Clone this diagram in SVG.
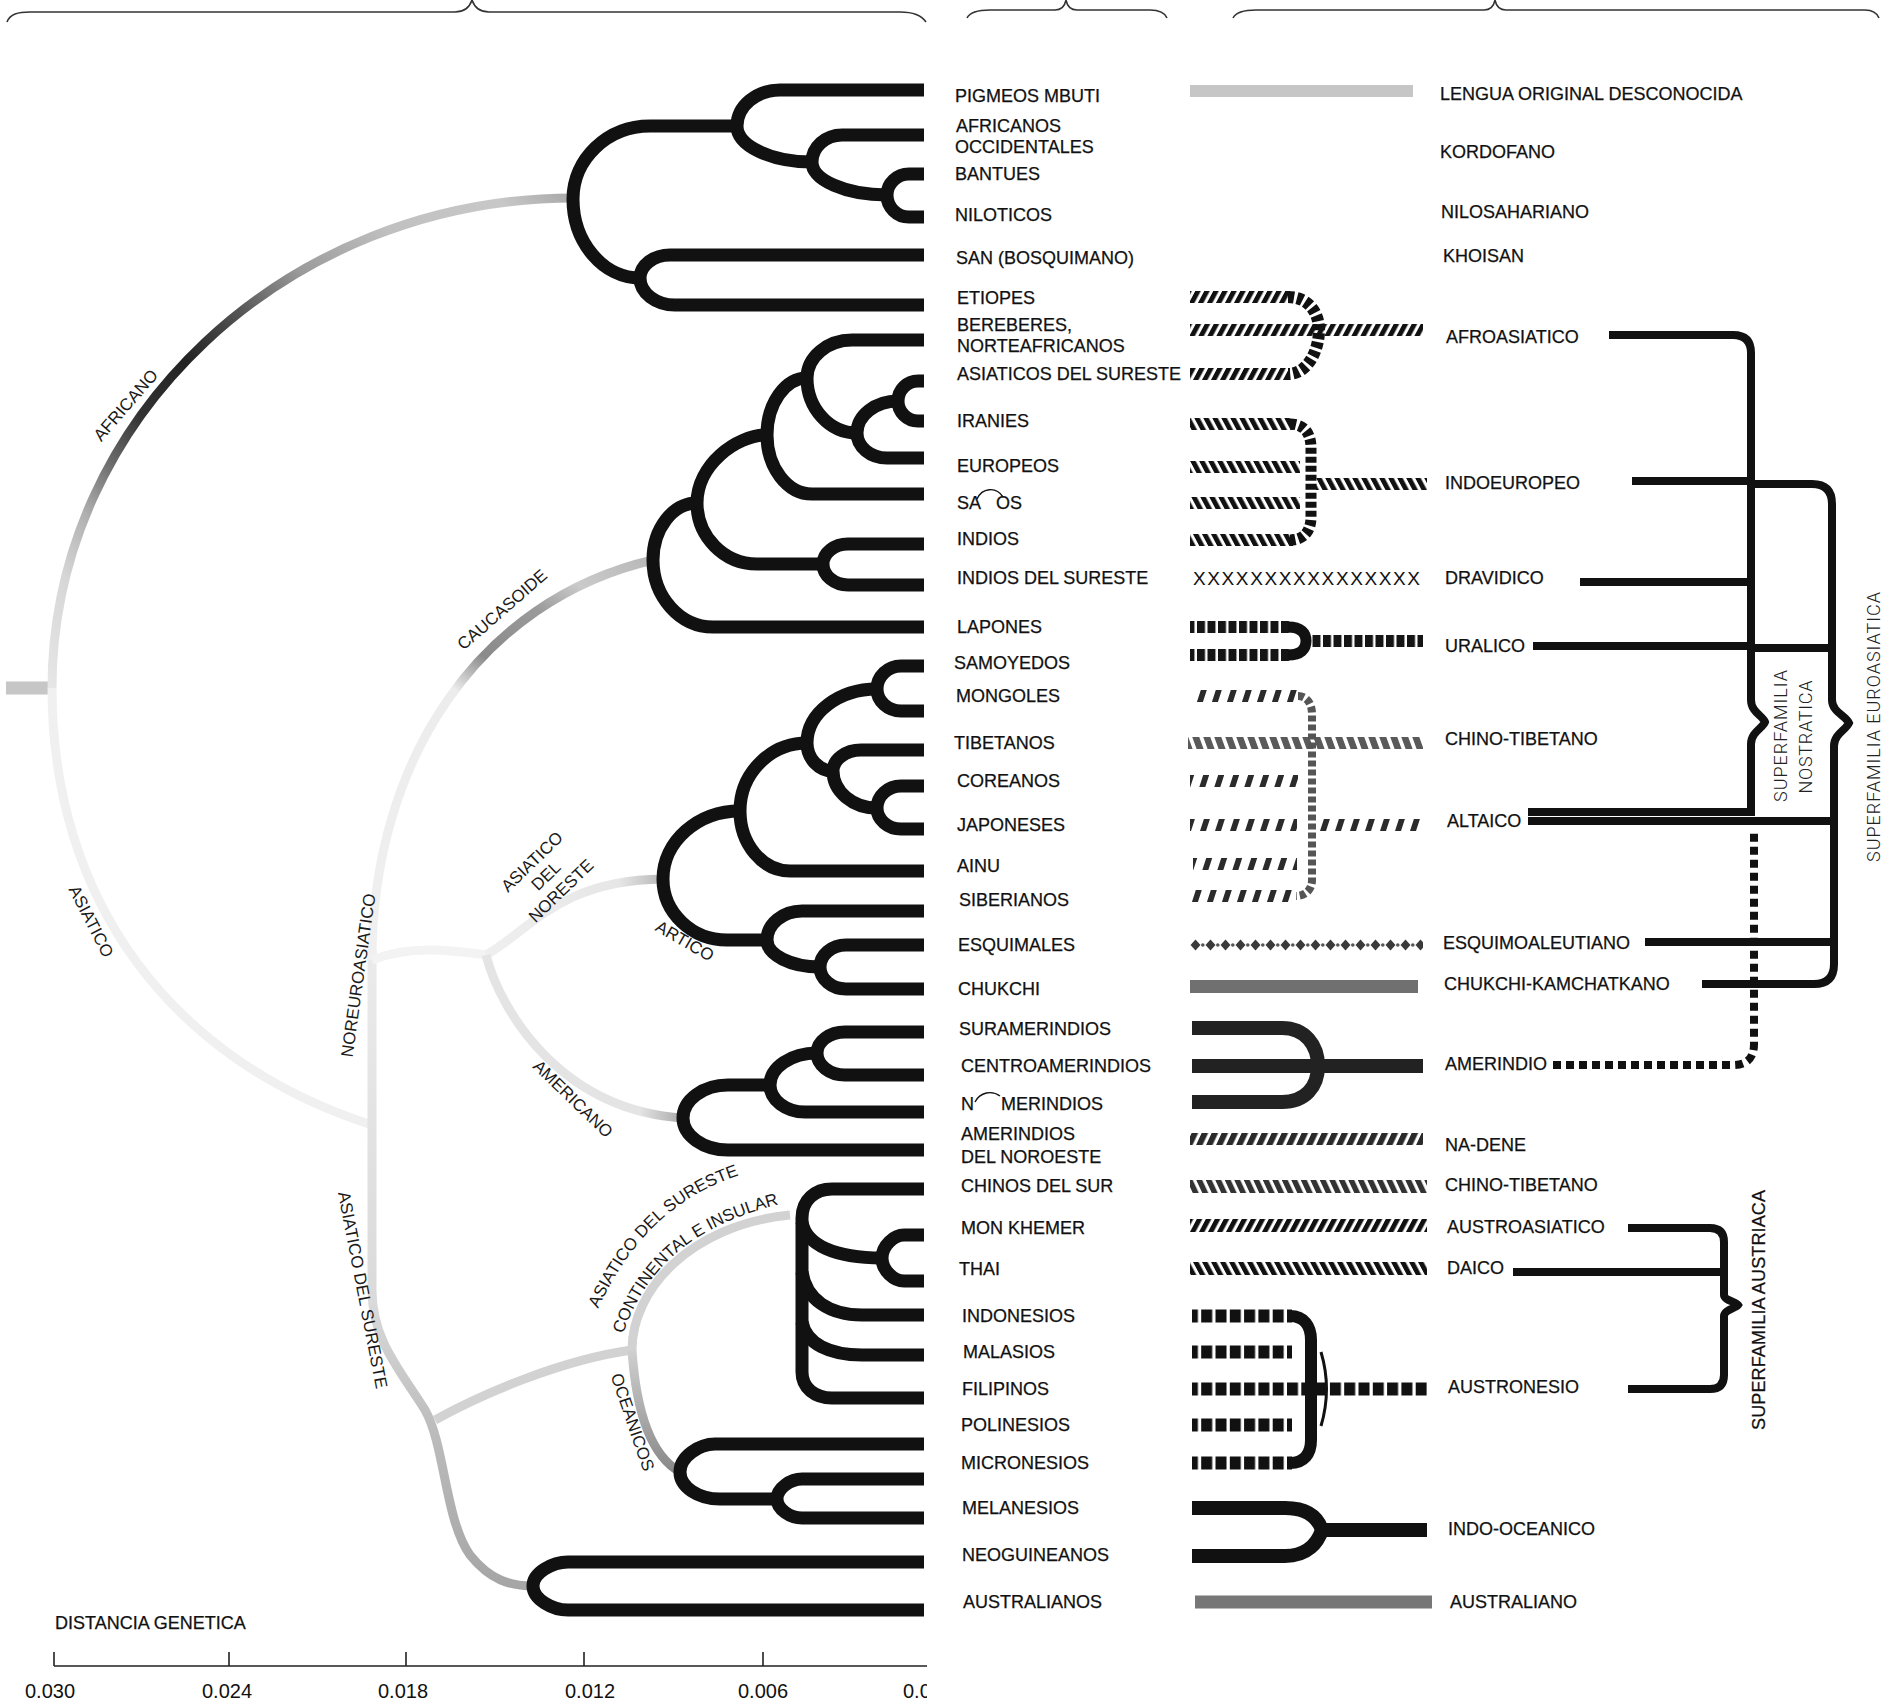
<svg xmlns="http://www.w3.org/2000/svg" width="1883" height="1705" viewBox="0 0 1883 1705">
<style>
.br{fill:none;stroke:#111;stroke-width:13}
.t{font-family:'Liberation Sans',Arial,Helvetica,sans-serif;font-size:18px;fill:#111;stroke:#111;stroke-width:0.25}
.tl{font-family:'Liberation Sans',Arial,Helvetica,sans-serif;font-size:17px;fill:#1a1a1a}
.sf{font-family:Roboto,'Liberation Sans',Arial,sans-serif;font-weight:300;font-size:18px;fill:#222}
.bk{fill:none;stroke:#111;stroke-width:8}
.brace{fill:none;stroke:#333;stroke-width:1.6}
.ax{font-family:'Liberation Sans',Arial,sans-serif;font-size:20px;fill:#111}
.gb{fill:none;stroke-width:9}
</style>
<defs>
<pattern id="pFwd" patternUnits="userSpaceOnUse" width="9" height="40" patternTransform="skewX(-28)"><rect width="5.5" height="40" fill="#111"/></pattern>
<pattern id="pBack" patternUnits="userSpaceOnUse" width="9" height="40" patternTransform="skewX(28)"><rect width="5.5" height="40" fill="#111"/></pattern>
<pattern id="pFwdD" patternUnits="userSpaceOnUse" width="10" height="40" patternTransform="skewX(-25)"><rect width="6.5" height="40" fill="#2a2a2a"/></pattern>
<pattern id="pBackG" patternUnits="userSpaceOnUse" width="9.5" height="40" patternTransform="skewX(25)"><rect width="6" height="40" fill="#333"/></pattern>
<pattern id="pBlock" patternUnits="userSpaceOnUse" width="10.5" height="40"><rect width="8" height="40" fill="#151515"/></pattern>
<pattern id="pSq" patternUnits="userSpaceOnUse" width="14.3" height="40"><rect width="11" height="40" fill="#111"/></pattern>
<pattern id="pMong" patternUnits="userSpaceOnUse" width="15" height="40" patternTransform="skewX(-18)"><rect width="6" height="40" fill="#2b2b2b"/></pattern>
<pattern id="pTib" patternUnits="userSpaceOnUse" width="11" height="40" patternTransform="skewX(20)"><rect width="7" height="40" fill="#5a5a5a"/></pattern>
<pattern id="pEsk" patternUnits="userSpaceOnUse" x="1190" y="939" width="15" height="12"><path d="M0.5 6 L5.5 0.5 L10.5 6 L5.5 11.5Z" fill="#3a3a3a"/><circle cx="12.8" cy="6" r="1.8" fill="#555"/></pattern>
<linearGradient id="gAfr" gradientUnits="userSpaceOnUse" x1="52" y1="688" x2="574" y2="198">
<stop offset="0" stop-color="#e6e6e6"/><stop offset="0.12" stop-color="#d6d6d6"/><stop offset="0.2" stop-color="#b0b0b0"/><stop offset="0.27" stop-color="#707070"/><stop offset="0.35" stop-color="#333"/><stop offset="0.45" stop-color="#222"/><stop offset="0.55" stop-color="#555"/><stop offset="0.65" stop-color="#9a9a9a"/><stop offset="0.78" stop-color="#c0c0c0"/><stop offset="0.92" stop-color="#c8c8c8"/><stop offset="1" stop-color="#a8a8a8"/>
</linearGradient>
<linearGradient id="gCau" gradientUnits="userSpaceOnUse" x1="372" y1="960" x2="653" y2="560">
<stop offset="0" stop-color="#f0f0f0"/><stop offset="0.55" stop-color="#ececec"/><stop offset="0.64" stop-color="#8a8a8a"/><stop offset="0.78" stop-color="#9a9a9a"/><stop offset="0.87" stop-color="#cacaca"/><stop offset="1" stop-color="#b8b8b8"/>
</linearGradient>
<linearGradient id="gVert" gradientUnits="userSpaceOnUse" x1="0" y1="950" x2="0" y2="1590">
<stop offset="0" stop-color="#ebebeb"/><stop offset="0.55" stop-color="#dadada"/><stop offset="0.75" stop-color="#bcbcbc"/><stop offset="1" stop-color="#a5a5a5"/>
</linearGradient>
<linearGradient id="gNE" gradientUnits="userSpaceOnUse" x1="486" y1="0" x2="663" y2="0">
<stop offset="0" stop-color="#efefef"/><stop offset="0.75" stop-color="#e6e6e6"/><stop offset="1" stop-color="#b8b8b8"/>
</linearGradient>
<linearGradient id="gAm" gradientUnits="userSpaceOnUse" x1="486" y1="0" x2="683" y2="0">
<stop offset="0" stop-color="#e4e4e4"/><stop offset="0.78" stop-color="#e4e4e4"/><stop offset="1" stop-color="#a8a8a8"/>
</linearGradient>
<linearGradient id="gOc" gradientUnits="userSpaceOnUse" x1="0" y1="1350" x2="0" y2="1472">
<stop offset="0" stop-color="#d0d0d0"/><stop offset="1" stop-color="#888"/>
</linearGradient>
<linearGradient id="gOce" gradientUnits="userSpaceOnUse" x1="672" y1="0" x2="770" y2="0">
<stop offset="0" stop-color="#6a6a6a"/><stop offset="1" stop-color="#111"/>
</linearGradient>
<clipPath id="clipAx"><rect x="0" y="0" width="927" height="1705"/></clipPath>
<path id="tp1" d="M598 1309 C631.6 1236 678.8 1193.3 746 1173"/>
<path id="tp2" d="M623 1334 C651 1254 708 1222.5 783 1203"/>
</defs>
<rect width="1883" height="1705" fill="#fff"/>

<g id="top-braces">
<path class="brace" d="M7 22 C10 14 18 12 30 12 L455 12 C465 12 470 6 472 0 C474 6 479 12 489 12 L900 12 C915 12 922 16 926 22"/>
<path class="brace" d="M967 18 C970 12 978 10 990 10 L1055 10 C1062 10 1065 5 1066 0 C1067 5 1070 10 1077 10 L1150 10 C1160 10 1165 13 1167 18"/>
<path class="brace" d="M1233 18 C1236 12 1244 10 1256 10 L1484 10 C1491 10 1494 5 1495 0 C1496 5 1499 10 1506 10 L1865 10 C1873 10 1877 13 1879 18"/>
</g>

<g id="gray-tree">
<path d="M6 688 L52 688" stroke="#c6c6c6" stroke-width="13" fill="none"/>
<path class="gb" d="M52 688 C52 418.5 286.9 198 574 198" stroke="url(#gAfr)" stroke-width="11"/>
<path class="gb" d="M52 688 C52 900 170 1060 372 1125" stroke="#f0f0f0" stroke-width="8"/>
<path class="gb" d="M372 950 L372 1290 C372 1340 400 1370 425 1410 C445 1445 445 1520 470 1555 C490 1580 510 1586 533 1586" stroke="url(#gVert)"/>
<path class="gb" d="M372 960 C372 760 480 600 653 560" stroke="url(#gCau)"/>
<path class="gb" d="M372 960 C410 945 450 950 486 955" stroke="#f3f3f3" stroke-width="8"/>
<path class="gb" d="M486 955 C530 930 560 880 663 879" stroke="url(#gNE)" stroke-width="8"/>
<path class="gb" d="M486 955 C500 1010 560 1110 683 1118" stroke="url(#gAm)" stroke-width="8"/>
<path class="gb" d="M435 1420 C480 1395 560 1360 632 1350" stroke="#d2d2d2"/>
<path class="gb" d="M632 1350 C632 1290 690 1225 790 1215" stroke="#d2d2d2"/>
<path class="gb" d="M632 1350 C636 1410 650 1455 680 1472" stroke="url(#gOc)"/>
</g>

<g id="tree-labels">
<text class="tl" text-anchor="middle" transform="translate(130,409) rotate(-49)">AFRICANO</text>
<text class="tl" text-anchor="middle" transform="translate(506,614) rotate(-41)">CAUCASOIDE</text>
<text class="tl" text-anchor="middle" transform="translate(86,924) rotate(63)">ASIATICO</text>
<text class="tl" text-anchor="middle" transform="translate(364,976) rotate(-82)">NOREUROASIATICO</text>
<text class="tl" text-anchor="middle" transform="translate(357,1291) rotate(79)">ASIATICO DEL SURESTE</text>
<text class="tl" text-anchor="middle" transform="translate(536,866) rotate(-44)">ASIATICO</text>
<text class="tl" text-anchor="middle" transform="translate(550,880) rotate(-44)">DEL</text>
<text class="tl" text-anchor="middle" transform="translate(565,895) rotate(-44)">NORESTE</text>
<text class="tl" text-anchor="middle" font-size="15.5" transform="translate(682,946) rotate(30)">ARTICO</text>
<text class="tl" text-anchor="middle" transform="translate(569,1103) rotate(44)">AMERICANO</text>
<text class="tl" text-anchor="middle" transform="translate(627,1424) rotate(71)">OCEANICOS</text>
<text class="tl" font-size="16.5"><textPath href="#tp1">ASIATICO DEL SURESTE</textPath></text>
<text class="tl" font-size="16.5"><textPath href="#tp2">CONTINENTAL E INSULAR</textPath></text>
</g>

<g id="connectors">
<path class="br" d="M924 174 L909 174 C896.9 174 887 183.5 887 195 C887 207.1 896.9 217 909 217 L924 217"/>
<path class="br" d="M924 135 L842 135 C825.5 135 812 147.2 812 162 C812 180.2 845.8 195 887 195"/>
<path class="br" d="M924 90 L780 90 C756.4 90 737 106.2 737 126 C737 145.8 770.8 162 812 162"/>
<path class="br" d="M924 255 L670 255 C653.5 255 640 265.4 640 278 C640 292.9 655.8 305 675 305 L924 305"/>
<path class="br" d="M737 126 L650 126 C607.4 126 573 158.9 573 199 C573 242.5 603.2 278 640 278"/>
<path class="br" d="M924 381 L918 381 C907 381 898 390 898 401 C898 412 907 421 918 421 L924 421"/>
<path class="br" d="M898 401 C875.5 401 857 415.4 857 433 C857 446.8 870.5 458 887 458 L924 458"/>
<path class="br" d="M924 340 L852 340 C827.3 340 807 357.1 807 378 C807 408.3 829.5 433 857 433"/>
<path class="br" d="M807 378 C785 378 767 403.6 767 435 C767 467.5 787.3 494 812 494 L924 494"/>
<path class="br" d="M924 544 L848 544 C834.3 544 823 553 823 564 C823 575.6 834.3 585 848 585 L924 585"/>
<path class="br" d="M767 435 C735.5 435 697 465.6 697 503 C697 536.6 724 564 757 564 L823 564"/>
<path class="br" d="M697 503 C672.8 503 653 528.7 653 560 C653 596.9 680 627 713 627 L924 627"/>
<path class="br" d="M924 666 L901 666 C887.8 666 877 676.4 877 689 C877 701.1 887.8 711 901 711 L924 711"/>
<path class="br" d="M924 786 L901 786 C887.8 786 877 795.9 877 808 C877 819.6 887.8 829 901 829 L924 829"/>
<path class="br" d="M924 750 L861 750 C845.6 750 833 759.5 833 771 C833 791.4 852.8 808 877 808"/>
<path class="br" d="M877 689 C838.5 689 807 713.3 807 743 C807 758.4 818.7 771 833 771"/>
<path class="br" d="M807 743 C770.2 743 740 773.6 740 811 C740 844 762.5 871 790 871 L924 871"/>
<path class="br" d="M924 945 L846 945 C831.7 945 820 954.9 820 967 C820 979.1 831.7 989 846 989 L924 989"/>
<path class="br" d="M924 911 L802 911 C782.8 911 767 924.1 767 940 C767 954.9 790.9 967 820 967"/>
<path class="br" d="M740 811 C697.7 811 663 841.6 663 879 C663 912.6 691.8 940 727 940 L767 940"/>
<path class="br" d="M924 1032 L845 1032 C829.6 1032 817 1041.4 817 1053 C817 1065.1 829.6 1075 845 1075 L924 1075"/>
<path class="br" d="M817 1053 C791.2 1053 770 1067.4 770 1085 C770 1099.9 785.8 1112 805 1112 L924 1112"/>
<path class="br" d="M770 1085 L728 1085 C703.3 1085 683 1099.9 683 1118 C683 1135.6 703.3 1150 728 1150 L924 1150"/>
<path class="br" d="M924 1235 L904 1235 C894.1 1235 882 1245.4 882 1258 C882 1270.7 894.1 1281 904 1281 L924 1281"/>
<path class="br" d="M924 1189 L832 1189 C815 1189 802 1200 802 1218 L802 1372 C802 1388 815 1398 832 1398 L924 1398"/>
<path class="br" d="M802 1222 C806 1245 835 1258 882 1258"/>
<path class="br" d="M802 1272 C806 1300 830 1315 862 1315 L924 1315"/>
<path class="br" d="M802 1322 C806 1344 830 1355 862 1355 L924 1355"/>
<path class="br" d="M924 1479 L802 1479 C790.8 1479 777 1488 777 1499 C777 1509.5 790.8 1518 802 1518 L924 1518"/>
<path class="br" stroke="url(#gOce)" d="M924 1444 L715 1444 C699.3 1444 680 1456.6 680 1472 C680 1486.9 698 1499 720 1499 L777 1499"/>
<path class="br" d="M924 1562 L568 1562 C552.3 1562 533 1572.8 533 1586 C533 1599.2 552.3 1610 568 1610 L924 1610"/>
</g>

<g id="populations">
<g id="pop-pigmeos"><text class="t" x="955" y="102">PIGMEOS MBUTI</text></g>
<g id="pop-africanos-occ"><text class="t" x="956" y="132">AFRICANOS</text><text class="t" x="955" y="153">OCCIDENTALES</text></g>
<g id="pop-bantues"><text class="t" x="955" y="180">BANTUES</text></g>
<g id="pop-niloticos"><text class="t" x="955" y="221">NILOTICOS</text></g>
<g id="pop-san"><text class="t" x="956" y="264">SAN (BOSQUIMANO)</text></g>
<g id="pop-etiopes"><text class="t" x="957" y="304">ETIOPES</text></g>
<g id="pop-bereberes"><text class="t" x="957" y="331">BEREBERES,</text><text class="t" x="957" y="352">NORTEAFRICANOS</text></g>
<g id="pop-asiaticos-se"><text class="t" x="957" y="380">ASIATICOS DEL SURESTE</text></g>
<g id="pop-iranies"><text class="t" x="957" y="427">IRANIES</text></g>
<g id="pop-europeos"><text class="t" x="957" y="472">EUROPEOS</text></g>
<g id="pop-sardos"><text class="t" x="957" y="509">SA</text><path d="M977 499 C982 488 996 486 1003 497" fill="none" stroke="#111" stroke-width="1.4"/><text class="t" x="996" y="509">OS</text></g>
<g id="pop-indios"><text class="t" x="957" y="545">INDIOS</text></g>
<g id="pop-indios-se"><text class="t" x="957" y="584">INDIOS DEL SURESTE</text></g>
<g id="pop-lapones"><text class="t" x="957" y="633">LAPONES</text></g>
<g id="pop-samoyedos"><text class="t" x="954" y="669">SAMOYEDOS</text></g>
<g id="pop-mongoles"><text class="t" x="956" y="702">MONGOLES</text></g>
<g id="pop-tibetanos"><text class="t" x="954" y="749">TIBETANOS</text></g>
<g id="pop-coreanos"><text class="t" x="957" y="787">COREANOS</text></g>
<g id="pop-japoneses"><text class="t" x="957" y="831">JAPONESES</text></g>
<g id="pop-ainu"><text class="t" x="957" y="872">AINU</text></g>
<g id="pop-siberianos"><text class="t" x="959" y="906">SIBERIANOS</text></g>
<g id="pop-esquimales"><text class="t" x="958" y="951">ESQUIMALES</text></g>
<g id="pop-chukchi"><text class="t" x="958" y="995">CHUKCHI</text></g>
<g id="pop-suramerindios"><text class="t" x="959" y="1035">SURAMERINDIOS</text></g>
<g id="pop-centroamerindios"><text class="t" x="961" y="1072">CENTROAMERINDIOS</text></g>
<g id="pop-noramerindios"><text class="t" x="961" y="1110">N</text><path d="M975 1102 C980 1092 992 1090 1000 1096" fill="none" stroke="#111" stroke-width="1.4"/><text class="t" x="1001" y="1110">MERINDIOS</text></g>
<g id="pop-amerindios-no"><text class="t" x="961" y="1140">AMERINDIOS</text><text class="t" x="961" y="1163">DEL NOROESTE</text></g>
<g id="pop-chinos-sur"><text class="t" x="961" y="1192">CHINOS DEL SUR</text></g>
<g id="pop-mon-khemer"><text class="t" x="961" y="1234">MON KHEMER</text></g>
<g id="pop-thai"><text class="t" x="959" y="1275">THAI</text></g>
<g id="pop-indonesios"><text class="t" x="962" y="1322">INDONESIOS</text></g>
<g id="pop-malasios"><text class="t" x="963" y="1358">MALASIOS</text></g>
<g id="pop-filipinos"><text class="t" x="962" y="1395">FILIPINOS</text></g>
<g id="pop-polinesios"><text class="t" x="961" y="1431">POLINESIOS</text></g>
<g id="pop-micronesios"><text class="t" x="961" y="1469">MICRONESIOS</text></g>
<g id="pop-melanesios"><text class="t" x="962" y="1514">MELANESIOS</text></g>
<g id="pop-neoguineanos"><text class="t" x="962" y="1561">NEOGUINEANOS</text></g>
<g id="pop-australianos"><text class="t" x="963" y="1608">AUSTRALIANOS</text></g>
</g>

<g id="language-bars">
<rect x="1190" y="85" width="223" height="12" fill="#c6c6c6"/>
<rect x="1190" y="291" width="100" height="12" fill="url(#pFwd)"/>
<rect x="1190" y="324" width="233" height="12" fill="url(#pFwd)"/>
<rect x="1190" y="368" width="100" height="12" fill="url(#pFwd)"/>
<path d="M1288 297 C1308 297 1319 312 1319 330 C1319 350 1308 374 1288 374" fill="none" stroke="#111" stroke-width="12" stroke-dasharray="6 3"/>
<rect x="1190" y="418" width="103" height="12" fill="url(#pBack)"/>
<rect x="1190" y="461" width="110" height="12" fill="url(#pBack)"/>
<rect x="1190" y="497" width="110" height="12" fill="url(#pBack)"/>
<rect x="1190" y="534" width="103" height="12" fill="url(#pBack)"/>
<path d="M1290 424 C1304 424 1311 433 1311 448 L1311 517 C1311 531 1304 540 1290 540" fill="none" stroke="#111" stroke-width="11" stroke-dasharray="6 3"/>
<rect x="1316" y="478" width="111" height="12" fill="url(#pBack)"/>
<text x="1193" y="585" font-family="'Liberation Sans',Arial,sans-serif" font-size="19" fill="#111" textLength="227" lengthAdjust="spacing">XXXXXXXXXXXXXXXX</text>
<rect x="1190" y="621" width="100" height="12" fill="url(#pBlock)"/>
<rect x="1190" y="649" width="100" height="12" fill="url(#pBlock)"/>
<path d="M1288 627 C1301 627 1306 633 1306 641 C1306 649 1301 655 1288 655" fill="none" stroke="#111" stroke-width="11"/>
<rect x="1311" y="635" width="112" height="12" fill="url(#pBlock)"/>
<rect x="1193" y="690" width="107" height="12" fill="url(#pMong)"/>
<rect x="1188" y="737" width="235" height="12" fill="url(#pTib)"/>
<rect x="1190" y="775" width="108" height="12" fill="url(#pMong)"/>
<rect x="1190" y="819" width="107" height="12" fill="url(#pMong)"/>
<rect x="1318" y="819" width="105" height="12" fill="url(#pMong)"/>
<rect x="1193" y="858" width="104" height="12" fill="url(#pMong)"/>
<rect x="1190" y="890" width="104" height="12" fill="url(#pMong)"/>
<path d="M1298 696 C1307 696 1312 704 1312 714 L1312 880 C1312 890 1305 896 1296 896" fill="none" stroke="#555" stroke-width="8" stroke-dasharray="6 3"/>
<rect x="1190" y="939" width="233" height="12" fill="url(#pEsk)"/>
<rect x="1190" y="980" width="228" height="13" fill="#707070"/>
<path d="M1192 1028 L1282 1028 C1305 1028 1318 1045 1318 1066 C1318 1087 1305 1102 1282 1102 L1192 1102" fill="none" stroke="#222" stroke-width="14"/>
<path d="M1192 1066 L1423 1066" fill="none" stroke="#222" stroke-width="14"/>
<rect x="1190" y="1133" width="233" height="12" fill="url(#pFwdD)"/>
<rect x="1190" y="1180" width="237" height="13" fill="url(#pBackG)"/>
<rect x="1190" y="1219" width="237" height="13" fill="url(#pFwd)"/>
<rect x="1190" y="1262" width="237" height="13" fill="url(#pBack)"/>
<rect x="1192" y="1309.5" width="100" height="13" fill="url(#pSq)"/>
<rect x="1192" y="1345.5" width="100" height="13" fill="url(#pSq)"/>
<rect x="1192" y="1382.5" width="235" height="13" fill="url(#pSq)"/>
<rect x="1192" y="1418.5" width="100" height="13" fill="url(#pSq)"/>
<rect x="1192" y="1456.5" width="100" height="13" fill="url(#pSq)"/>
<path d="M1290 1316 C1304 1316 1311 1326 1311 1340 L1311 1440 C1311 1454 1304 1463 1290 1463" fill="none" stroke="#111" stroke-width="12"/>
<path d="M1321 1352 Q1332 1389 1321 1426" fill="none" stroke="#111" stroke-width="3"/>
<path d="M1192 1508 L1285 1508 C1308 1508 1318 1518 1322 1530 C1318 1542 1308 1556 1285 1556 L1192 1556" fill="none" stroke="#111" stroke-width="14"/>
<path d="M1318 1530 L1427 1530" fill="none" stroke="#111" stroke-width="14"/>
<rect x="1195" y="1595.5" width="237" height="13" fill="#777"/>
</g>

<g id="languages">
<g id="lang-desconocida"><text class="t" x="1440" y="100">LENGUA ORIGINAL DESCONOCIDA</text></g>
<g id="lang-kordofano"><text class="t" x="1440" y="158">KORDOFANO</text></g>
<g id="lang-nilosahariano"><text class="t" x="1441" y="218">NILOSAHARIANO</text></g>
<g id="lang-khoisan"><text class="t" x="1443" y="262">KHOISAN</text></g>
<g id="lang-afroasiatico"><text class="t" x="1446" y="343">AFROASIATICO</text></g>
<g id="lang-indoeuropeo"><text class="t" x="1445" y="489">INDOEUROPEO</text></g>
<g id="lang-dravidico"><text class="t" x="1445" y="584">DRAVIDICO</text></g>
<g id="lang-uralico"><text class="t" x="1445" y="652">URALICO</text></g>
<g id="lang-chino-tibetano-1"><text class="t" x="1445" y="745">CHINO-TIBETANO</text></g>
<g id="lang-altaico"><text class="t" x="1447" y="827">ALTAICO</text></g>
<g id="lang-esquimoaleutiano"><text class="t" x="1443" y="949">ESQUIMOALEUTIANO</text></g>
<g id="lang-chukchi-kamchatkano"><text class="t" x="1444" y="990">CHUKCHI-KAMCHATKANO</text></g>
<g id="lang-amerindio"><text class="t" x="1445" y="1070">AMERINDIO</text></g>
<g id="lang-na-dene"><text class="t" x="1445" y="1151">NA-DENE</text></g>
<g id="lang-chino-tibetano-2"><text class="t" x="1445" y="1191">CHINO-TIBETANO</text></g>
<g id="lang-austroasiatico"><text class="t" x="1447" y="1233">AUSTROASIATICO</text></g>
<g id="lang-daico"><text class="t" x="1447" y="1274">DAICO</text></g>
<g id="lang-austronesio"><text class="t" x="1448" y="1393">AUSTRONESIO</text></g>
<g id="lang-indo-oceanico"><text class="t" x="1448" y="1535">INDO-OCEANICO</text></g>
<g id="lang-australiano"><text class="t" x="1450" y="1608">AUSTRALIANO</text></g>
</g>

<g id="superfamily-brackets">
<path class="bk" d="M1609 335 L1733 335 Q1751 335 1751 353 L1751 700 C1751 712 1763 716 1765 722 C1763 728 1751 732 1751 744 L1751 815"/>
<path class="bk" stroke-width="14" d="M1632 481 L1751 481"/>
<path class="bk" stroke-width="6" d="M1580 582 L1751 582"/>
<path class="bk" stroke-width="14" d="M1533 646 L1751 646"/>
<path class="bk" stroke-width="7" d="M1751 648 L1833 648"/>
<path class="bk" stroke-width="6" d="M1528 812 L1755 812"/>
<path class="bk" stroke-width="6" d="M1528 821 L1832 821"/>
<path class="bk" d="M1753 484 L1812 484 Q1832 484 1832 504 L1832 700 C1832 712 1846 716 1849 723 C1846 730 1834 734 1834 746 L1834 964 Q1834 984 1814 984 L1702 984"/>
<path class="bk" stroke-width="6" d="M1645 942 L1834 942"/>
<path class="bk" stroke-width="7" stroke-dasharray="8 5" d="M1553 1065 L1733 1065 Q1754 1065 1754 1044 L1754 832"/>
<path class="bk" stroke-width="9" d="M1628 1228 L1710 1228 Q1724 1228 1724 1242 L1724 1295 C1724 1300 1736 1302 1738 1305 C1736 1308 1724 1310 1724 1316 L1724 1375 Q1724 1389 1710 1389 L1628 1389"/>
<path class="bk" stroke-width="9" d="M1513 1272 L1724 1272"/>
</g>

<g id="superfamily-labels">
<g id="sf-nostratica"><text class="sf" text-anchor="middle" textLength="132" transform="translate(1787,736) rotate(-90)">SUPERFAMILIA</text><text class="sf" text-anchor="middle" textLength="113" transform="translate(1812,737) rotate(-90)">NOSTRATICA</text></g>
<g id="sf-euroasiatica"><text class="sf" text-anchor="middle" textLength="270" transform="translate(1880,727) rotate(-90)">SUPERFAMILIA EUROASIATICA</text></g>
<g id="sf-austriaca"><text class="t" text-anchor="middle" textLength="240" transform="translate(1765,1310) rotate(-90)">SUPERFAMILIA AUSTRIACA</text></g>
</g>

<g id="axis">
<text class="t" x="55" y="1629" font-size="17">DISTANCIA GENETICA</text>
<path d="M54 1666 L927 1666 M54 1652 L54 1666 M229 1652 L229 1666 M406 1652 L406 1666 M584 1652 L584 1666 M763 1652 L763 1666" fill="none" stroke="#222" stroke-width="1.6"/>
<text class="ax" x="50" y="1698" text-anchor="middle">0.030</text>
<text class="ax" x="227" y="1698" text-anchor="middle">0.024</text>
<text class="ax" x="403" y="1698" text-anchor="middle">0.018</text>
<text class="ax" x="590" y="1698" text-anchor="middle">0.012</text>
<text class="ax" x="763" y="1698" text-anchor="middle">0.006</text>
<text class="ax" x="903" y="1698" clip-path="url(#clipAx)">0.000</text>
</g>
</svg>
